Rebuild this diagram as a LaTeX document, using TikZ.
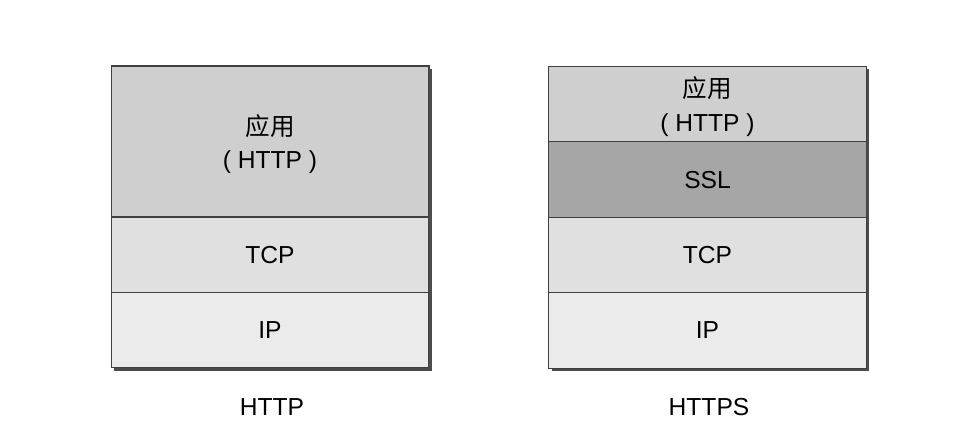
\documentclass[tikz,border=0pt]{standalone}
\usepackage{fontspec}
\setmainfont{Liberation Sans}
\newfontfamily\cjk{Noto Sans CJK SC}
\usepackage{xcolor}
\usepackage{tikz}
\usetikzlibrary{positioning,calc}
\definecolor{appgray}{HTML}{CFCFCF}
\definecolor{sslgray}{HTML}{A6A6A6}
\definecolor{tcpgray}{HTML}{E0E0E0}
\definecolor{ipgray}{HTML}{EBEBEB}
\tikzset{
  layer/.style={draw=black!75, line width=0.6pt, rectangle, align=center, font=\fontsize{14}{19}\selectfont, minimum width=6.36cm, inner sep=0pt, outer sep=0pt, text depth=0pt},
  tall/.style={layer, minimum height=3.02cm},
  half/.style={layer, minimum height=1.51cm},
  caption/.style={font=\fontsize{14}{17}\selectfont},
  shadow/.style={fill=black!70}
}

\begin{document}
\begin{tikzpicture}[x=0.02cm,y=-0.02cm]
\useasboundingbox (0,0) rectangle (980,432);
% HTTP stack
\node[tall,fill=appgray] (happ) at (270,141.5) {{\cjk 应用}\\( HTTP )};
\node[half,fill=tcpgray,below=0pt of happ] (htcp) {TCP};
\node[half,fill=ipgray,below=0pt of htcp] (hip) {IP};
% HTTPS stack
\node[half,fill=appgray] (sapp) at (707.5,104) {{\cjk 应用}\\( HTTP )};
\node[half,fill=sslgray,below=0pt of sapp] (sssl) {SSL};
\node[half,fill=tcpgray,below=0pt of sssl] (stcp) {TCP};
\node[half,fill=ipgray,below=0pt of stcp] (sip) {IP};
% shadows
\fill[shadow] ($(happ.north east)+(0.5,3)$) rectangle ($(hip.south east)+(3,3)$);
\fill[shadow] ($(hip.south west)+(3,0.5)$) rectangle ($(hip.south east)+(3,3)$);
\fill[shadow] ($(sapp.north east)+(0.5,3)$) rectangle ($(sip.south east)+(3,3)$);
\fill[shadow] ($(sip.south west)+(3,0.5)$) rectangle ($(sip.south east)+(3,3)$);
% captions
\node[caption] (hcap) at (272,407) {HTTP};
\node[caption] (scap) at (709,407) {HTTPS};
\end{tikzpicture}
\end{document}
